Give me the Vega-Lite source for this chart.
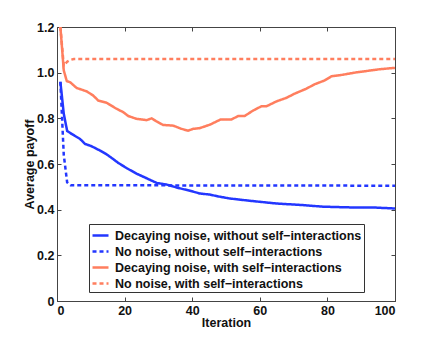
{
  "$schema": "https://vega.github.io/schema/vega-lite/v6.json",
  "autosize": "none",
  "width": 338,
  "height": 274,
  "padding": {"left": 57, "top": 27, "right": 41, "bottom": 38},
  "background": "white",
  "config": {
    "view": {"stroke": "#444", "strokeWidth": 1},
    "font": "Liberation Sans",
    "axis": {"labelFont": "Liberation Sans", "titleFont": "Liberation Sans", "labelFontWeight": "bold", "titleFontWeight": "bold", "labelFontSize": 12.5, "titleFontSize": 12.5, "labelColor": "#111", "titleColor": "#111", "grid": false, "domainColor": "#444", "tickColor": "#444", "tickSize": -4, "labelPadding": 7},
    "legend": {"labelFont": "Liberation Sans", "labelFontWeight": "bold", "labelFontSize": 12.5, "labelColor": "#111"}
  },
  "data": {"values": [
    {"it": 1, "v": 0.96, "s": "Decaying noise, without self−interactions"},
    {"it": 2, "v": 0.82, "s": "Decaying noise, without self−interactions"},
    {"it": 3, "v": 0.745, "s": "Decaying noise, without self−interactions"},
    {"it": 4.3, "v": 0.732, "s": "Decaying noise, without self−interactions"},
    {"it": 6.8, "v": 0.71, "s": "Decaying noise, without self−interactions"},
    {"it": 8.3, "v": 0.688, "s": "Decaying noise, without self−interactions"},
    {"it": 10.2, "v": 0.678, "s": "Decaying noise, without self−interactions"},
    {"it": 12.7, "v": 0.659, "s": "Decaying noise, without self−interactions"},
    {"it": 14.7, "v": 0.642, "s": "Decaying noise, without self−interactions"},
    {"it": 16.6, "v": 0.622, "s": "Decaying noise, without self−interactions"},
    {"it": 18.1, "v": 0.605, "s": "Decaying noise, without self−interactions"},
    {"it": 20.6, "v": 0.582, "s": "Decaying noise, without self−interactions"},
    {"it": 23.5, "v": 0.558, "s": "Decaying noise, without self−interactions"},
    {"it": 26, "v": 0.541, "s": "Decaying noise, without self−interactions"},
    {"it": 29.5, "v": 0.517, "s": "Decaying noise, without self−interactions"},
    {"it": 32.4, "v": 0.51, "s": "Decaying noise, without self−interactions"},
    {"it": 35.4, "v": 0.497, "s": "Decaying noise, without self−interactions"},
    {"it": 39.3, "v": 0.483, "s": "Decaying noise, without self−interactions"},
    {"it": 42.2, "v": 0.471, "s": "Decaying noise, without self−interactions"},
    {"it": 45.2, "v": 0.466, "s": "Decaying noise, without self−interactions"},
    {"it": 47.7, "v": 0.458, "s": "Decaying noise, without self−interactions"},
    {"it": 51.1, "v": 0.449, "s": "Decaying noise, without self−interactions"},
    {"it": 57, "v": 0.439, "s": "Decaying noise, without self−interactions"},
    {"it": 64.9, "v": 0.427, "s": "Decaying noise, without self−interactions"},
    {"it": 72.8, "v": 0.42, "s": "Decaying noise, without self−interactions"},
    {"it": 78.7, "v": 0.413, "s": "Decaying noise, without self−interactions"},
    {"it": 86.6, "v": 0.41, "s": "Decaying noise, without self−interactions"},
    {"it": 94.5, "v": 0.409, "s": "Decaying noise, without self−interactions"},
    {"it": 100, "v": 0.405, "s": "Decaying noise, without self−interactions"},
    {"it": 1, "v": 0.96, "s": "No noise, without self−interactions"},
    {"it": 2, "v": 0.64, "s": "No noise, without self−interactions"},
    {"it": 3, "v": 0.52, "s": "No noise, without self−interactions"},
    {"it": 4, "v": 0.507, "s": "No noise, without self−interactions"},
    {"it": 100, "v": 0.505, "s": "No noise, without self−interactions"},
    {"it": 1, "v": 1.2, "s": "Decaying noise, with self−interactions"},
    {"it": 2, "v": 1.01, "s": "Decaying noise, with self−interactions"},
    {"it": 2.9, "v": 0.963, "s": "Decaying noise, with self−interactions"},
    {"it": 3.9, "v": 0.958, "s": "Decaying noise, with self−interactions"},
    {"it": 5.8, "v": 0.933, "s": "Decaying noise, with self−interactions"},
    {"it": 8.8, "v": 0.918, "s": "Decaying noise, with self−interactions"},
    {"it": 10.7, "v": 0.9, "s": "Decaying noise, with self−interactions"},
    {"it": 12.2, "v": 0.878, "s": "Decaying noise, with self−interactions"},
    {"it": 14.7, "v": 0.868, "s": "Decaying noise, with self−interactions"},
    {"it": 17.6, "v": 0.842, "s": "Decaying noise, with self−interactions"},
    {"it": 19.6, "v": 0.827, "s": "Decaying noise, with self−interactions"},
    {"it": 21.1, "v": 0.81, "s": "Decaying noise, with self−interactions"},
    {"it": 23.5, "v": 0.798, "s": "Decaying noise, with self−interactions"},
    {"it": 26.5, "v": 0.792, "s": "Decaying noise, with self−interactions"},
    {"it": 28, "v": 0.8, "s": "Decaying noise, with self−interactions"},
    {"it": 29.5, "v": 0.786, "s": "Decaying noise, with self−interactions"},
    {"it": 31.4, "v": 0.771, "s": "Decaying noise, with self−interactions"},
    {"it": 34.4, "v": 0.768, "s": "Decaying noise, with self−interactions"},
    {"it": 36.8, "v": 0.754, "s": "Decaying noise, with self−interactions"},
    {"it": 38.8, "v": 0.746, "s": "Decaying noise, with self−interactions"},
    {"it": 40.3, "v": 0.754, "s": "Decaying noise, with self−interactions"},
    {"it": 42.2, "v": 0.757, "s": "Decaying noise, with self−interactions"},
    {"it": 45.2, "v": 0.772, "s": "Decaying noise, with self−interactions"},
    {"it": 48.4, "v": 0.795, "s": "Decaying noise, with self−interactions"},
    {"it": 51.6, "v": 0.795, "s": "Decaying noise, with self−interactions"},
    {"it": 53.6, "v": 0.81, "s": "Decaying noise, with self−interactions"},
    {"it": 55.5, "v": 0.81, "s": "Decaying noise, with self−interactions"},
    {"it": 58, "v": 0.834, "s": "Decaying noise, with self−interactions"},
    {"it": 60.5, "v": 0.853, "s": "Decaying noise, with self−interactions"},
    {"it": 62, "v": 0.853, "s": "Decaying noise, with self−interactions"},
    {"it": 64.9, "v": 0.874, "s": "Decaying noise, with self−interactions"},
    {"it": 67.9, "v": 0.89, "s": "Decaying noise, with self−interactions"},
    {"it": 70.3, "v": 0.908, "s": "Decaying noise, with self−interactions"},
    {"it": 73.8, "v": 0.93, "s": "Decaying noise, with self−interactions"},
    {"it": 76.2, "v": 0.949, "s": "Decaying noise, with self−interactions"},
    {"it": 79.2, "v": 0.966, "s": "Decaying noise, with self−interactions"},
    {"it": 81.2, "v": 0.984, "s": "Decaying noise, with self−interactions"},
    {"it": 84.6, "v": 0.991, "s": "Decaying noise, with self−interactions"},
    {"it": 88, "v": 1.0, "s": "Decaying noise, with self−interactions"},
    {"it": 91, "v": 1.006, "s": "Decaying noise, with self−interactions"},
    {"it": 95.4, "v": 1.015, "s": "Decaying noise, with self−interactions"},
    {"it": 100, "v": 1.021, "s": "Decaying noise, with self−interactions"},
    {"it": 1, "v": 1.2, "s": "No noise, with self−interactions"},
    {"it": 2, "v": 1.03, "s": "No noise, with self−interactions"},
    {"it": 3, "v": 1.048, "s": "No noise, with self−interactions"},
    {"it": 4, "v": 1.056, "s": "No noise, with self−interactions"},
    {"it": 5, "v": 1.06, "s": "No noise, with self−interactions"},
    {"it": 100, "v": 1.06, "s": "No noise, with self−interactions"}
  ]},
  "layer": [
    {
      "mark": {"type": "line", "strokeWidth": 2.5},
      "encoding": {
        "x": {"field": "it", "type": "quantitative", "scale": {"domain": [0, 100], "nice": false}, "axis": {"title": "Iteration", "values": [0, 20, 40, 60, 80, 100], "titlePadding": 0}},
        "y": {"field": "v", "type": "quantitative", "scale": {"domain": [0, 1.2], "nice": false}, "axis": {"title": "Average payoff", "values": [0, 0.2, 0.4, 0.6, 0.8, 1.0, 1.2], "labelExpr": "datum.value == 0 ? '0' : format(datum.value, '.1f')", "titlePadding": 0}},
        "color": {"field": "s", "type": "nominal", "scale": {"domain": ["Decaying noise, without self−interactions", "No noise, without self−interactions", "Decaying noise, with self−interactions", "No noise, with self−interactions"], "range": ["#2337ff", "#2337ff", "#ff7e5e", "#ff7e5e"]},
          "legend": {"title": null, "orient": "none", "legendX": 32, "legendY": 197, "strokeColor": "#333", "fillColor": "white", "padding": 2, "symbolType": "stroke", "symbolSize": 256, "symbolStrokeWidth": 2.5, "rowPadding": 0, "labelOffset": 5, "labelLimit": 400}},
        "strokeDash": {"field": "s", "type": "nominal", "scale": {"domain": ["Decaying noise, without self−interactions", "No noise, without self−interactions", "Decaying noise, with self−interactions", "No noise, with self−interactions"], "range": [[1, 0], [4, 3], [1, 0], [4, 3]]}, "legend": {"title": null, "orient": "none", "legendX": 32, "legendY": 197}}
      }
    },
    {
      "mark": {"type": "line", "strokeOpacity": 0},
      "encoding": {
        "x": {"field": "it", "type": "quantitative", "axis": {"orient": "top", "title": null, "labels": false, "domain": false, "values": [0, 20, 40, 60, 80, 100]}},
        "y": {"field": "v", "type": "quantitative", "axis": {"orient": "right", "title": null, "labels": false, "domain": false, "values": [0, 0.2, 0.4, 0.6, 0.8, 1.0, 1.2]}}
      }
    }
  ],
  "resolve": {"axis": {"x": "independent", "y": "independent"}}
}
